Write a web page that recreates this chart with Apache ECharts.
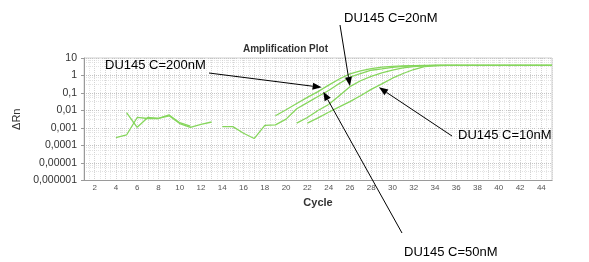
<!DOCTYPE html>
<html>
<head>
<meta charset="utf-8">
<script src="https://cdn.jsdelivr.net/npm/echarts@6/dist/echarts.min.js"></script>
<style>
html,body{margin:0;padding:0;background:#fff;}
#chart{width:589px;height:262px;}
</style>
</head>
<body>
<div id="chart"></div>
<script>
// ---- data ----
var cycles = [1,2,3,4,5,6,7,8,9,10,11,12,13,14,15,16,17,18,19,20,21,22,23,24,25,26,27,28,29,30,31,32,33,34,35,36,37,38,39,40,41,42,43,44,45];
var xTickLabels = ['2','4','6','8','10','12','14','16','18','20','22','24','26','28','30','32','34','36','38','40','42','44'];
var yTickValues = [0.000001,0.00001,0.0001,0.001,0.01,0.1,1,10];
var yTickLabels = ['0,000001','0,00001','0,0001','0,001','0,01','0,1','1','10'];

var c200 = [null,null,null,2.8e-4,4.0e-4,4.0e-3,3.5e-3,3.5e-3,5.6e-3,2.0e-3,1.3e-3,null,null,null,null,null,null,null,
  5.0e-3,0.011,0.025,0.056,0.12,0.28,0.63,1.25,1.86,2.5,3.0,3.3,3.55,3.7,3.8,3.8,3.8,3.8,3.8,3.8,3.8,3.8,3.8,3.8,3.8,3.8,3.8];
var c50 = [null,null,null,null,null,null,null,null,null,null,null,null,null,1.2e-3,1.2e-3,5.0e-4,2.5e-4,1.4e-3,
  1.5e-3,3.2e-3,0.0126,0.028,0.063,0.14,0.35,0.8,1.3,2.0,2.4,2.95,3.3,3.55,3.7,3.8,3.8,3.8,3.8,3.8,3.8,3.8,3.8,3.8,3.8,3.8,3.8];
var c20 = [null,null,null,null,7.6e-3,1.1e-3,4.0e-3,3.5e-3,5.0e-3,1.8e-3,1.1e-3,1.6e-3,2.2e-3,null,null,null,null,null,
  null,null,1.9e-3,4.0e-3,0.01,0.022,0.07,0.23,0.5,0.9,1.4,2.0,2.7,3.2,3.55,3.8,3.8,3.8,3.8,3.8,3.8,3.8,3.8,3.8,3.8,3.8,3.8];
var c10 = [null,null,null,null,null,null,null,null,null,null,null,null,null,null,null,null,null,null,
  null,null,null,1.9e-3,3.8e-3,7.9e-3,0.016,0.032,0.07,0.16,0.33,0.7,1.3,2.2,3.2,3.6,3.8,3.8,3.8,3.8,3.8,3.8,3.8,3.8,3.8,3.8,3.8];

var seriesNames = ['DU145 C=200nM','DU145 C=50nM','DU145 C=20nM','DU145 C=10nM'];
var seriesValues = [c200, c50, c20, c10];

// annotation labels and the point (cycle, ΔRn) each arrow points at
var annoText = ['DU145 C=200nM','DU145 C=20nM','DU145 C=10nM','DU145 C=50nM'];
var annoTipCycle = [23.34, 26.0, 28.73, 23.5];
var annoTipValue = [0.21, 0.25, 0.21, 0.119];

// ---- layout (pixel placement of labels / arrow tails) ----
var annoLayout = [
  {tx:105, ty:65, fx:209, fy:73},
  {tx:344, ty:18, fx:340, fy:25},
  {tx:458, ty:135, fx:452, fy:136},
  {tx:404, ty:252, fx:402, fy:233}
];

var FONT = '"Liberation Sans", Arial, sans-serif';
var chart = echarts.init(document.getElementById('chart'), null, {renderer:'canvas'});

function pairs(vals){
  return cycles.map(function(c,i){ return [c, vals[i] == null ? '-' : vals[i]]; });
}

var option = {
  animation:false,
  backgroundColor:'#fff',
  title:{
    text:'Amplification Plot', left:238, top:39,
    textStyle:{fontFamily:FONT, fontSize:10, fontWeight:'bold', color:'#333'}
  },
  grid:{left:84, right:37, top:58, bottom:81.5, show:true, borderColor:'#cfcfcf', borderWidth:1, backgroundColor:'#fff'},
  xAxis:{
    type:'value', min:1, max:45, interval:1,
    name:'Cycle', nameLocation:'middle', nameGap:17,
    nameTextStyle:{fontFamily:FONT, fontSize:11, fontWeight:'bold', color:'#333'},
    axisLine:{lineStyle:{color:'#9a9a9a'}},
    axisTick:{show:false},
    axisLabel:{fontFamily:FONT, fontSize:8, color:'#555', margin:3,
      formatter:function(v){ var i = xTickLabels.indexOf(String(v)); return i>=0 ? xTickLabels[i] : ''; }},
    splitLine:{show:true, lineStyle:{color:'#d4d4d4', type:'dotted', width:1}},
    minorTick:{show:false, splitNumber:2},
    minorSplitLine:{show:true, lineStyle:{color:'#e6e6e6', type:'dotted', width:1}}
  },
  yAxis:{
    type:'log', logBase:10, min:1e-6, max:10,
    name:'ΔRn', nameLocation:'middle', nameGap:57, nameRotate:90,
    nameTextStyle:{fontFamily:FONT, fontSize:11, color:'#333'},
    axisLine:{show:true, lineStyle:{color:'#9a9a9a'}},
    axisTick:{show:true, length:3, lineStyle:{color:'#9a9a9a'}},
    axisLabel:{fontFamily:FONT, fontSize:10.5, color:'#333', margin:7,
      formatter:function(v){
        for (var i=0;i<yTickValues.length;i++){ if (Math.abs(Math.log10(v)-Math.log10(yTickValues[i]))<1e-6) return yTickLabels[i]; }
        return '';
      }},
    splitLine:{show:true, lineStyle:{color:'#c4c4c4', type:'dotted', width:1}},
    minorTick:{show:false, splitNumber:4},
    minorSplitLine:{show:true, lineStyle:{color:'#e2e2e2', type:'dotted', width:1}}
  },
  series: seriesValues.map(function(vals, k){
    return {
      name:seriesNames[k], type:'line', data:pairs(vals), showSymbol:false, connectNulls:false,
      lineStyle:{color:'#86d65c', width:1.3}, itemStyle:{color:'#86d65c'}, z:3
    };
  })
};
chart.setOption(option);

// annotations with arrows pointing at data coordinates
var gfx = [];
for (var i=0;i<annoText.length;i++){
  var L = annoLayout[i];
  var tip = chart.convertToPixel({gridIndex:0}, [annoTipCycle[i], annoTipValue[i]]);
  var dx = tip[0]-L.fx, dy = tip[1]-L.fy, len = Math.sqrt(dx*dx+dy*dy);
  var ux = dx/len, uy = dy/len, hl = 9, hw = 3.5;
  var bx = tip[0]-ux*hl, by = tip[1]-uy*hl;
  gfx.push({type:'line', shape:{x1:L.fx, y1:L.fy, x2:bx, y2:by}, style:{stroke:'#000', lineWidth:1}, z:10});
  gfx.push({type:'polygon', shape:{points:[[tip[0],tip[1]],[bx-uy*hw, by+ux*hw],[bx+uy*hw, by-ux*hw]]}, style:{fill:'#000'}, z:10});
  gfx.push({type:'text', x:L.tx, y:L.ty, style:{text:annoText[i], font:'13px '+FONT, fill:'#000', textVerticalAlign:'middle', verticalAlign:'middle'}, z:10});
}
chart.setOption({graphic:gfx});
</script>
</body>
</html>
